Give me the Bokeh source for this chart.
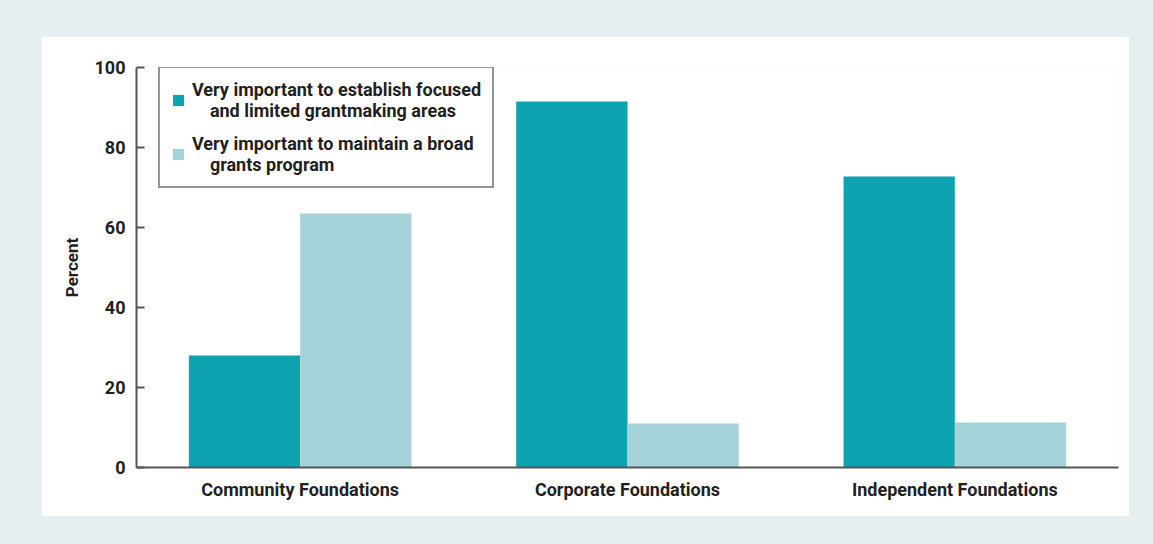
from bokeh.plotting import figure
from bokeh.models import ColumnDataSource, FactorRange, Range1d, Legend, LegendItem, FixedTicker
from bokeh.transform import dodge
from bokeh.layouts import column
from bokeh.embed import file_html
from bokeh.resources import INLINE

categories = ["Community Foundations", "Corporate Foundations", "Independent Foundations"]
focused = [28, 91.5, 72.75]
broad = [63.5, 11, 11.25]
y_ticks = [0, 20, 40, 60, 80, 100]
series_labels = [
    "Very important to establish focused\n\u00a0\u00a0\u00a0\u00a0and limited grantmaking areas",
    "Very important to maintain a broad\n\u00a0\u00a0\u00a0\u00a0grants program",
]

FONT = "Roboto"
TXT = "#231f20"
DARK = "#0fa3b1"
LIGHT = "#a5d3d9"

src = ColumnDataSource(dict(cat=categories, focused=focused, broad=broad))

p = figure(x_range=FactorRange(*categories, range_padding=0), y_range=Range1d(0, 100),
           width=1088, height=480, frame_width=982, frame_height=400,
           min_border_left=95, min_border_right=11, min_border_top=31, min_border_bottom=49,
           output_backend="svg", toolbar_location=None,
           background_fill_color="white", border_fill_color="white", outline_line_color=None)

r1 = p.vbar(x=dodge("cat", -0.17, range=p.x_range), top="focused", width=0.34, source=src,
            fill_color=DARK, line_color=None)
r2 = p.vbar(x=dodge("cat", 0.17, range=p.x_range), top="broad", width=0.34, source=src,
            fill_color=LIGHT, line_color=None)

p.xgrid.visible = False
p.ygrid.visible = False

for ax in (p.xaxis[0], p.yaxis[0]):
    ax.axis_line_color = "#555555"
    ax.axis_line_width = 2
    ax.major_label_text_font = FONT
    ax.major_label_text_font_style = "bold"
    ax.major_label_text_color = TXT
    ax.major_label_text_font_size = "18px"
    ax.minor_tick_line_color = None

p.xaxis.major_tick_line_color = None
p.xaxis.major_label_standoff = 5
p.yaxis.ticker = FixedTicker(ticks=y_ticks)
p.yaxis.major_tick_in = 8
p.yaxis.major_tick_out = 0
p.yaxis.major_tick_line_color = "#555555"
p.yaxis.major_tick_line_width = 2
p.yaxis.major_label_standoff = 11
p.yaxis.axis_label = "Percent"
p.yaxis.axis_label_text_font = FONT
p.yaxis.axis_label_text_font_style = "bold"
p.yaxis.axis_label_text_font_size = "17px"
p.yaxis.axis_label_text_color = TXT
p.yaxis.axis_label_standoff = 10

legend = Legend(items=[LegendItem(label=series_labels[0], renderers=[r1]),
                       LegendItem(label=series_labels[1], renderers=[r2])],
                location=(22, 279), margin=0, padding=11, spacing=12,
                glyph_width=14, glyph_height=14, label_standoff=7,
                label_text_font=FONT, label_text_font_style="bold",
                label_text_font_size="18px", label_text_color=TXT,
                border_line_color="#2b2b2b", border_line_width=2,
                background_fill_color="white", background_fill_alpha=1)
p.add_layout(legend)

wrap = column(p, styles={"background-color": "#e6eef1", "padding": "36px 24px 28px 41px"})

open("out.html", "w").write(file_html(wrap, INLINE))
